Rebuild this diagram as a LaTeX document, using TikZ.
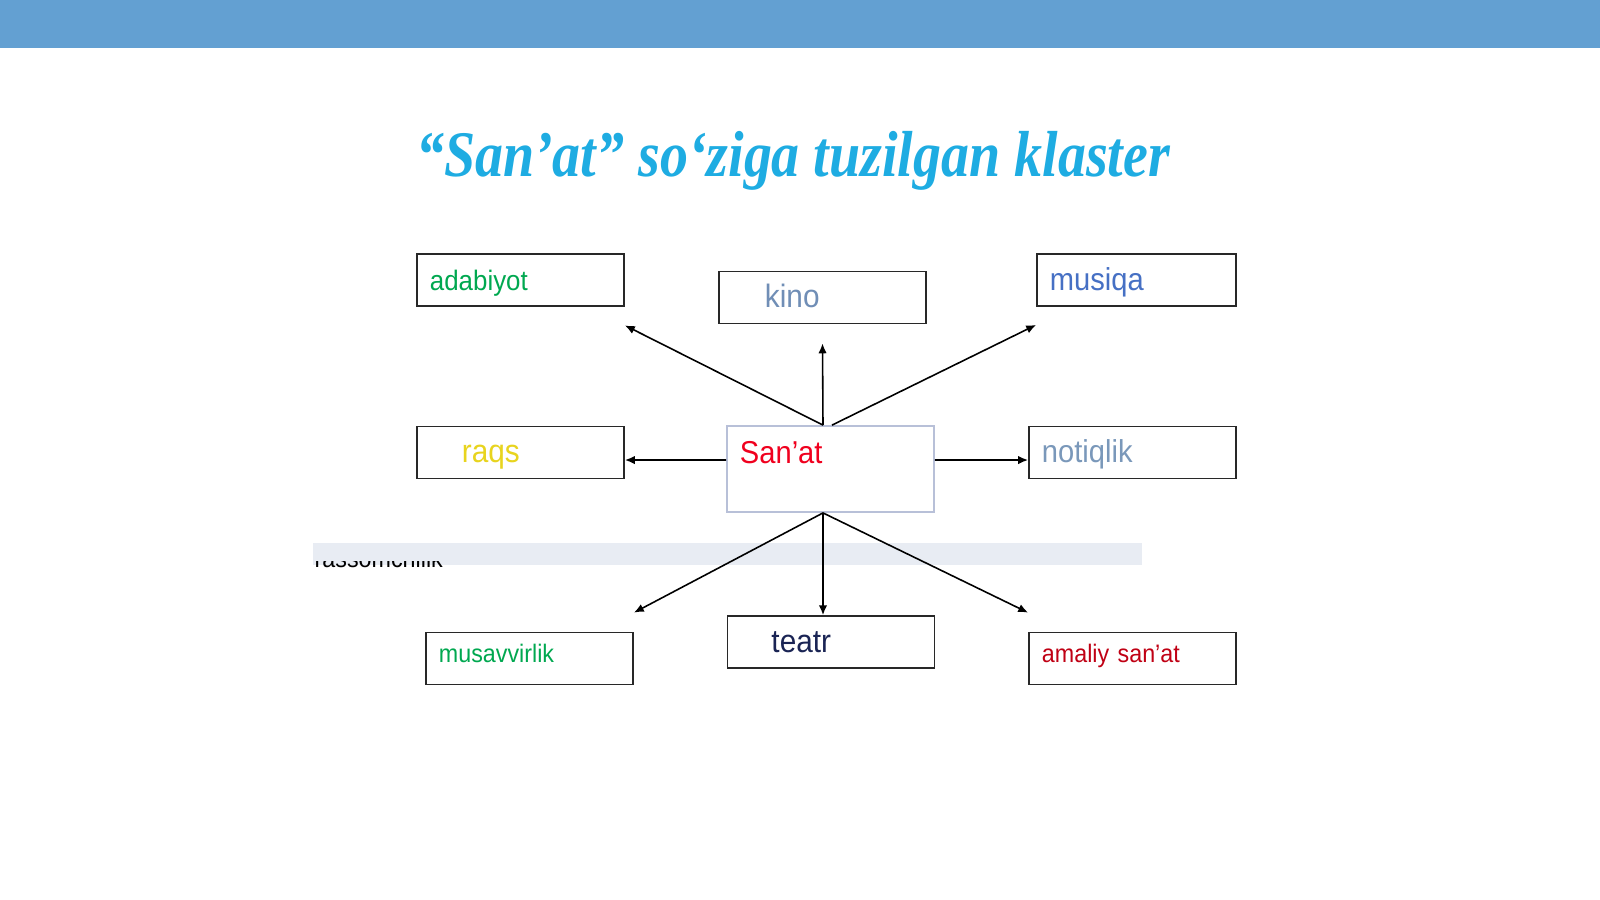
\documentclass[tikz,border=0pt]{standalone}
\usepackage{fontspec}
\setmainfont{Liberation Sans}[FakeStretch=0.92]
\newfontfamily\titlefont{Liberation Serif}[FakeStretch=0.86]
\usetikzlibrary{arrows.meta}

\definecolor{topbar}{RGB}{99,160,210}
\definecolor{titlecyan}{RGB}{30,172,226}
\definecolor{boxgrey}{RGB}{40,40,40}
\definecolor{sanatline}{RGB}{184,192,216}
\definecolor{bandgrey}{RGB}{232,236,243}
\definecolor{adabgreen}{RGB}{0,168,80}
\definecolor{kinoblue}{RGB}{112,142,182}
\definecolor{musiqablue}{RGB}{70,112,196}
\definecolor{raqsyellow}{RGB}{232,212,30}
\definecolor{sanatred}{RGB}{240,0,30}
\definecolor{notiqblue}{RGB}{122,152,186}
\definecolor{teatrnavy}{RGB}{26,36,84}
\definecolor{amaliyred}{RGB}{192,0,20}

\begin{document}
\begin{tikzpicture}[x=0.01cm, y=-0.01cm,
    box/.style={draw=boxgrey, line width=0.5pt, minimum width=2.07cm, minimum height=0.52cm,
        inner xsep=0.13cm, inner ysep=0pt, text width=1.81cm, align=left,
        text height=0.2cm, text depth=0pt},
    smallbox/.style={box, text height=0.08cm},
    link/.style={line width=0.45pt, -{Latex[length=2.8pt,width=2.4pt]}}]

    \useasboundingbox (0,0) rectangle (1600,899);
    \fill[white] (0,0) rectangle (1600,899);
    \fill[topbar] (0,0) rectangle (1600,48);

    % titolo
    \node[anchor=base, text=titlecyan, font=\titlefont\bfseries\itshape\fontsize{18.5}{22}\selectfont]
        (title) at (793,176) {“San’at” so‘ziga tuzilgan klaster};

    % fascia chiara con il testo tagliato
    \fill[bandgrey] (313,543) rectangle (1142,565);
    \begin{scope}
        \clip (300,561) rectangle (470,580);
        \node[anchor=base west, inner sep=0pt, font=\fontsize{7.2}{8}\selectfont] (rassom) at (314,567) {rassomchilik};
    \end{scope}

    % riquadri
    \node[box, text=adabgreen, font=\fontsize{8}{9}\selectfont] (adabiyot) at (520.5,280) {adabiyot};
    \node[box, text=kinoblue, font=\fontsize{9.2}{10}\selectfont] (kino) at (822.5,297.5) {\hspace*{0.33cm}kino};
    \node[box, minimum width=1.99cm, text width=1.73cm, text=musiqablue, font=\fontsize{9}{10}\selectfont] (musiqa) at (1136.5,280) {musiqa};
    \node[box, text=raqsyellow, font=\fontsize{9.2}{10}\selectfont] (raqs) at (520.5,452.5) {\hspace*{0.32cm}raqs};
    \node[box, draw=sanatline, line width=0.5pt, minimum height=0.86cm, inner ysep=0.1cm,
        text height=0.27cm, text depth=0.39cm, text=sanatred, font=\fontsize{9}{10}\selectfont] (sanat) at (830.5,469) {San’at};
    \node[box, text=notiqblue, font=\fontsize{9}{10}\selectfont] (notiqlik) at (1132.5,452.5) {notiqlik};
    \node[smallbox, text=adabgreen, font=\fontsize{7.2}{8}\selectfont] (musavvirlik) at (529.5,658.5) {musavvirlik};
    \node[box, text=teatrnavy, font=\fontsize{9.2}{10}\selectfont] (teatr) at (831,642) {\hspace*{0.31cm}teatr};
    \node[smallbox, text=amaliyred, font=\fontsize{7.2}{8}\selectfont] (amaliy) at (1132.5,658.5) {amaliy san’at};

    % frecce
    \draw[link] ([xshift=-0.075cm]sanat.north) -- ([yshift=-0.185cm]adabiyot.south east);
    \draw[link] ([xshift=-0.075cm]sanat.north) -- ([yshift=-0.19cm]kino.south);
    \draw[link] ([xshift=0.015cm]sanat.north) -- ([yshift=-0.18cm]musiqa.south west);
    \draw[link] ([yshift=0.09cm]sanat.west) -- ([yshift=-0.075cm]raqs.east);
    \draw[link] ([yshift=0.09cm]sanat.east) -- ([yshift=-0.075cm]notiqlik.west);
    \draw[link] ([xshift=-0.075cm]sanat.south) -- ([yshift=0.19cm]musavvirlik.north east);
    \draw[link] ([xshift=-0.075cm]sanat.south) -- ([xshift=-0.08cm]teatr.north);
    \draw[link] ([xshift=-0.075cm]sanat.south) -- ([yshift=0.19cm]amaliy.north west);

\end{tikzpicture}
\end{document}
